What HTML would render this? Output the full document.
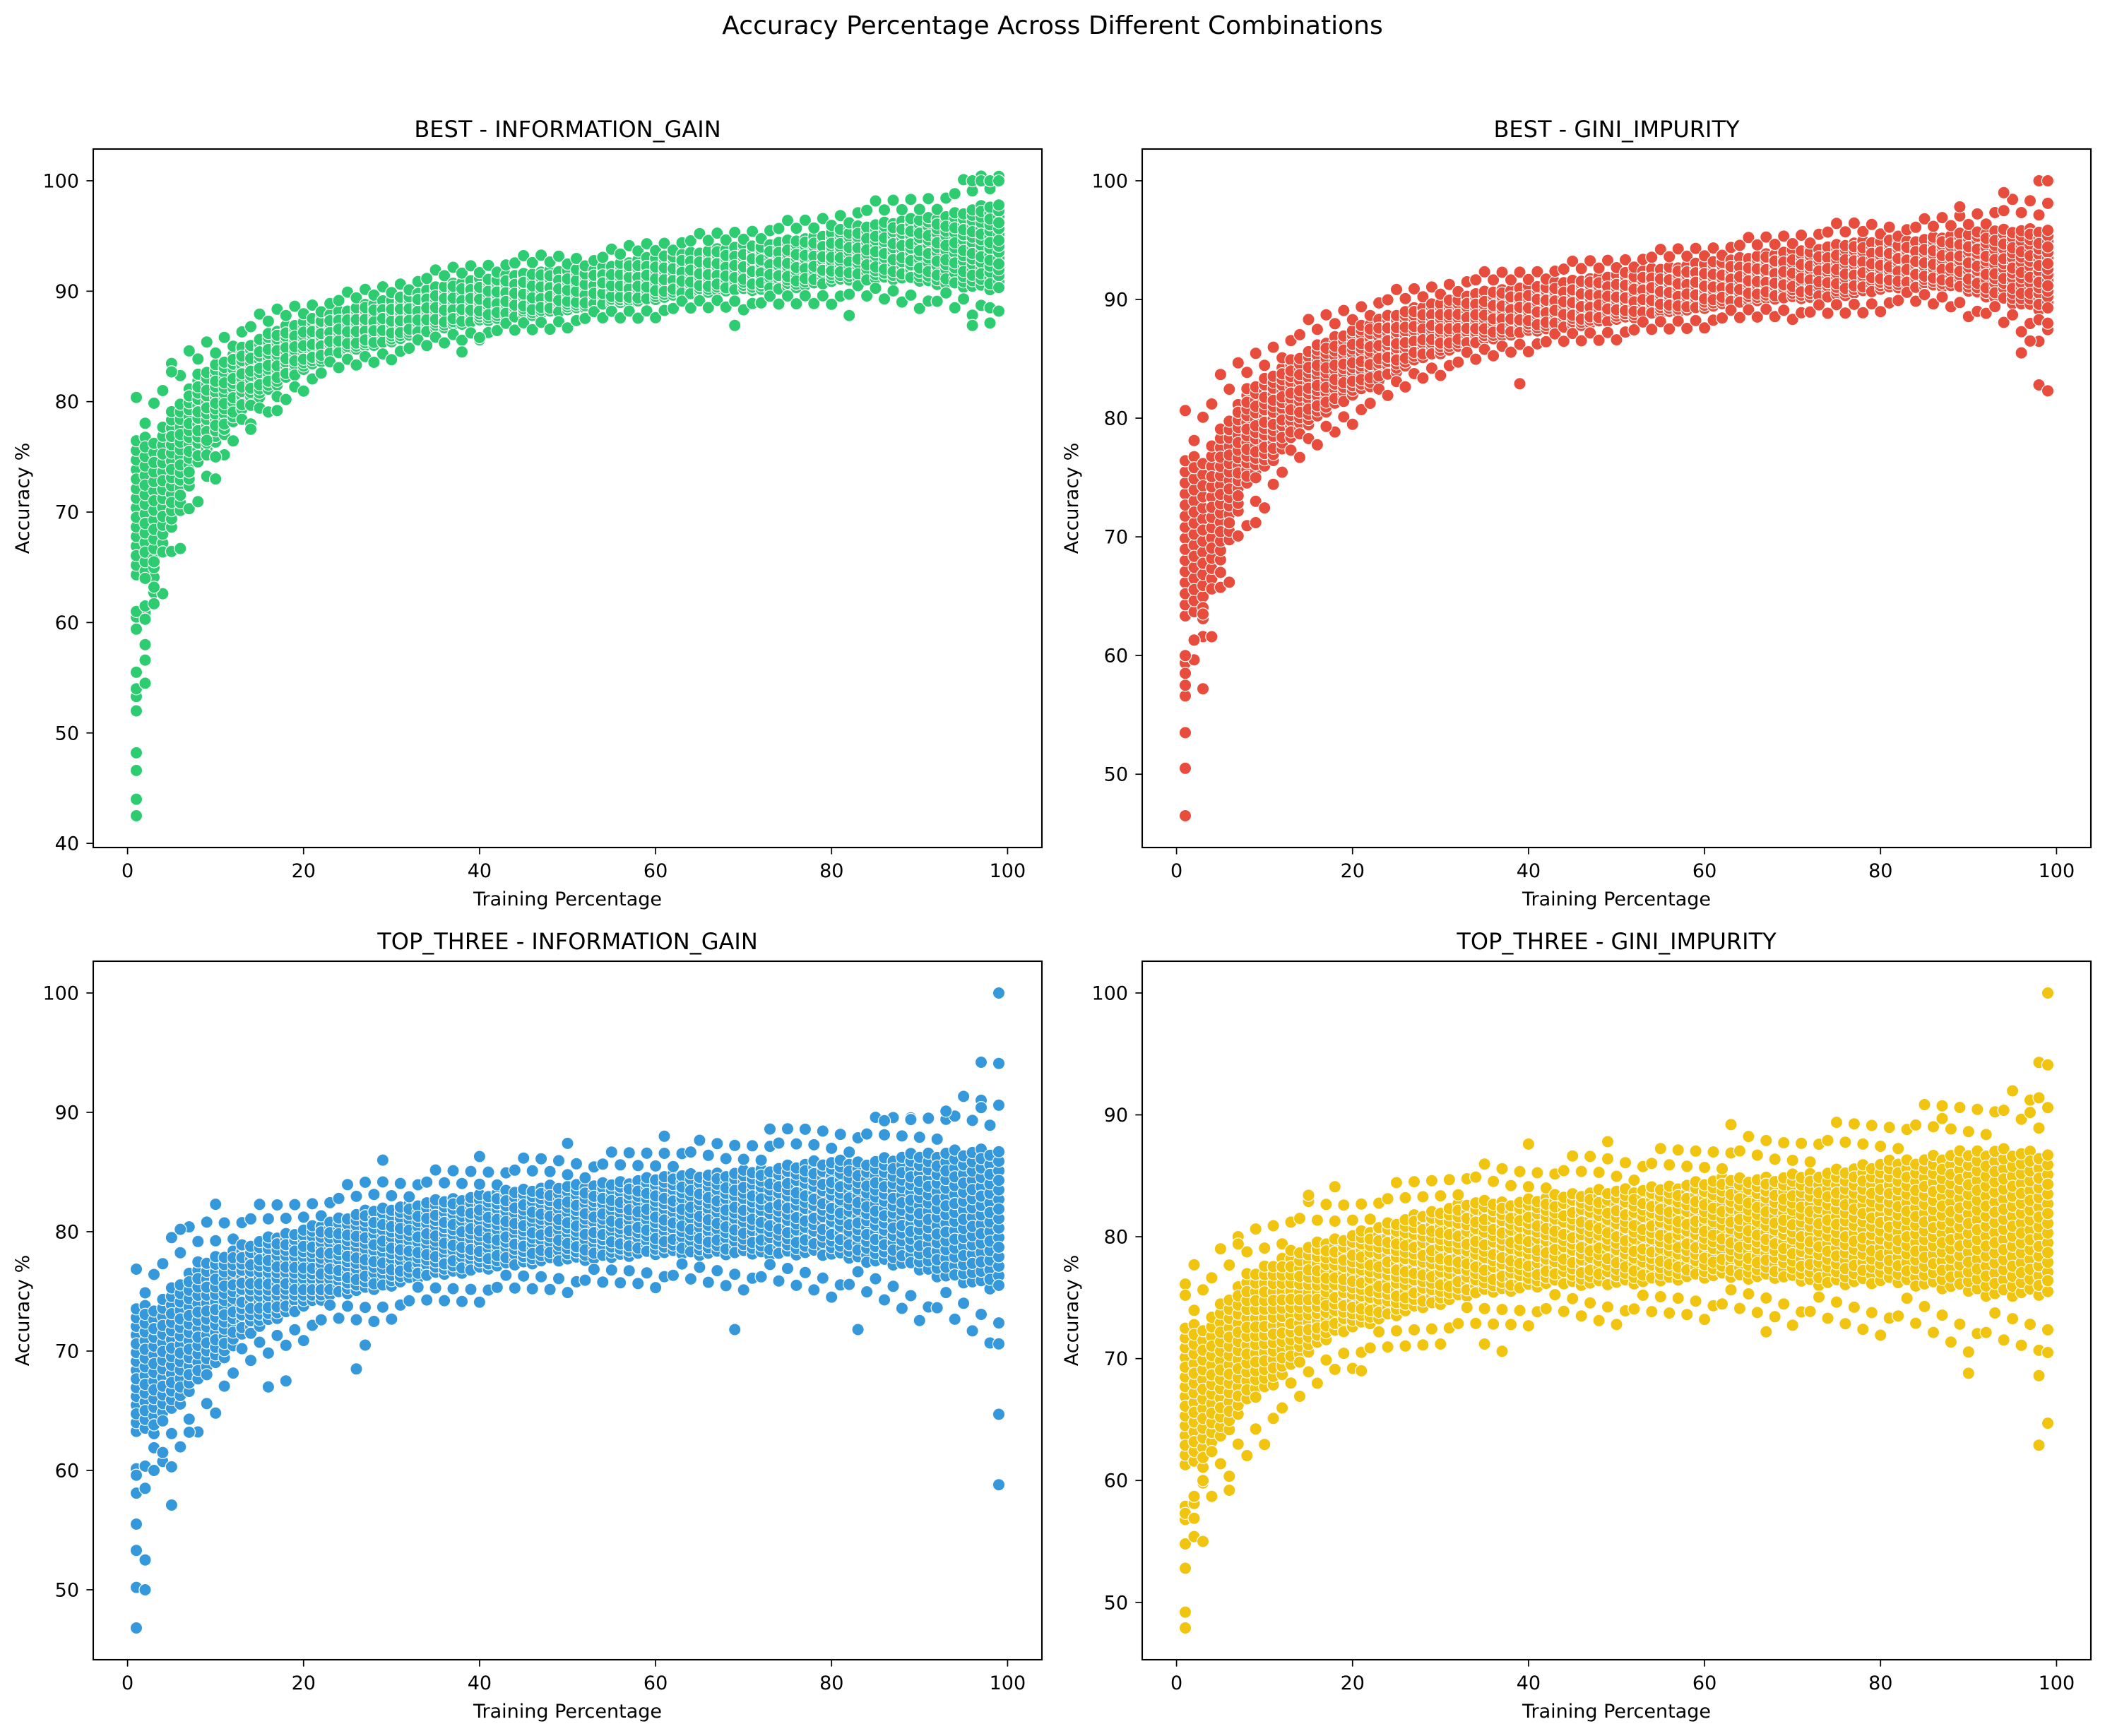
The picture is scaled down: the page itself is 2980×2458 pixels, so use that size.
<!DOCTYPE html>
<html><head><meta charset="utf-8"><style>
html,body{margin:0;padding:0;background:#fff;}
svg{display:block;font-family:"DejaVu Sans","Liberation Sans",sans-serif;}
</style></head><body>
<svg id="fig" width="2980" height="2458" viewBox="0 0 2980 2458" xmlns="http://www.w3.org/2000/svg">
<rect width="2980" height="2458" fill="#fff"/>
<text x="1490" y="48" font-size="36" text-anchor="middle" fill="#000">Accuracy Percentage Across Different Combinations</text>
</svg>
<script>
// band anchors at training % 3, 8, 13, ..., 98
const xTicks = [0,20,40,60,80,100];
const tlTitle = "BEST - INFORMATION_GAIN";
const tlLo = [64,74,79,82,84,85,86,87,87.5,88,88.5,89,89.5,90,90,90.5,91,91,90.5,90];
const tlHi = [77,82.5,85,87,88,89,90,91,91.5,92,92,93,93.5,94,94.5,95,96,96.5,97,98];
const tlOut = [[1,42.5],[1,44],[1,46.6],[1,48.2],[1,52],[1,53.3],[1,54],[1,55.5],[1,59.4],[1,60.5],[1,61],[2,54.5],[2,56.6],[2,58],[2,60.3],[2,61.5],[2,64],[3,61.7],[3,63.2],[3,65.5],[14,77.5],[17,79.2],[40,85.8],[38,84.5],[69,86.9],[82,87.8],[96,86.9],[98,88.5],[99,88.2],[96,100],[97,100],[98,100],[99,100],[5,82.7],[10,75],[9,76.5]];
const tlYTicks = [40,50,60,70,80,90,100];

const trTitle = "BEST - GINI_IMPURITY";
const trLo = [63,74,78,81,83,85,86,87,87.5,88,88.5,89,89.5,90,90,90.5,91,91,90,89];
const trHi = [77,82.5,85,87,88.5,89.5,90.5,91,91.5,92,92.5,93,93.5,94,94.5,95,95,95.5,96,96];
const trOut = [[1,46.5],[1,50.5],[1,53.5],[1,56.6],[1,57.5],[1,58.5],[1,60],[3,57.2],[3,63.5],[2,61.3],[9,71.2],[39,82.9],[17,79.3],[96,85.5],[97,86.5],[98,82.8],[99,82.3],[98,88.3],[99,88],[98,100],[99,100],[94,99],[89,97.8],[5,67]];
const trYTicks = [50,60,70,80,90,100];

const blTitle = "TOP_THREE - INFORMATION_GAIN";
const blLo = [63,67,71,73,74.5,75,76,76.5,77,77.5,77.5,78,78,78,78,78,77.5,77,76,75];
const blHi = [74,77.5,79,80,81,82,82.5,83,83.5,84,84,84.5,85,85,85.5,86,86,86.5,87,87];
const blOut = [[1,46.8],[1,50.2],[1,53.3],[1,55.5],[1,58.1],[1,59.6],[2,50],[2,52.5],[2,58.5],[3,60],[4,61.5],[5,57.1],[5,60.3],[7,63.2],[26,68.5],[27,70.5],[69,71.8],[83,71.8],[99,58.8],[99,64.7],[99,70.6],[99,100],[99,94.1],[97,94.2],[97,90.4],[93,90.1],[86,89.3],[89,89.4],[73,88.6],[50,87.4],[61,88],[16,67],[18,67.5],[29,86],[40,86.3],[6,80.2],[10,82.3]];
const blYTicks = [50,60,70,80,90,100];

const brTitle = "TOP_THREE - GINI_IMPURITY";
const brLo = [61,66,69,72,73,74,75,75.5,76,76,76,76.5,76.5,76.5,76,76,76,75.5,75,75];
const brHi = [73,77,79,80,81,82,83,83,83.5,84,84,84.5,85,85,85.5,86,86.5,87,87.5,87];
const brOut = [[1,47.9],[1,49.2],[1,52.8],[1,54.8],[1,56.8],[1,57.3],[2,55.4],[2,56.9],[2,58.7],[3,55],[3,60],[2,77.7],[1,75.2],[6,59.2],[7,79.4],[21,69],[35,71.2],[37,70.6],[67,72.2],[90,68.8],[98,62.9],[98,68.6],[99,64.7],[99,70.5],[99,76.4],[99,100],[98,94.3],[99,94.1],[98,91.4],[97,90.2],[63,89.2],[49,87.8],[40,87.6],[87,89.7],[15,83.4],[18,84.1]];
const brYTicks = [50,60,70,80,90,100];

const NS = "http://www.w3.org/2000/svg";
const svg = document.getElementById('fig');
function mk(tag, attrs, parent){
  const e = document.createElementNS(NS, tag);
  for (const k in attrs) e.setAttribute(k, attrs[k]);
  (parent||svg).appendChild(e);
  return e;
}
function bandAt(arr, x){
  const f = (x - 3) / 5;
  if (f <= 0) return arr[0];
  if (f >= arr.length - 1) return arr[arr.length - 1];
  const i = Math.floor(f), t = f - i;
  return arr[i] * (1 - t) + arr[i + 1] * t;
}

function panel(key, title, lo, hi, out, yTicks, color, L, T) {
  const W = 1343, H = 989;
  const xmin = -3.9, xmax = 103.9;
  let dmin = 100, dmax = 100;
  out.forEach(p => { dmin = Math.min(dmin, p[1]); dmax = Math.max(dmax, p[1]); });
  lo.forEach(v => dmin = Math.min(dmin, v));
  const pad = (dmax - dmin) * 0.05;
  const ymin = dmin - pad, ymax = dmax + pad;
  const sx = v => L + (v - xmin) / (xmax - xmin) * W;
  const sy = v => T + H - (v - ymin) / (ymax - ymin) * H;

  const g = mk('g', {});
  
  

  const pts = mk('g', {}, g);
  
  
  const N = 15;
  const fringe = [-0.32, -0.18, 1.16, 1.3];
  function dot(x, y){
    const c = mk('circle', {cx: sx(x).toFixed(1), cy: sy(y).toFixed(1), r: 8.6, fill: color, stroke: '#fff', 'stroke-width': 1.2}, pts);
    
    
  }
  for (let x = 1; x <= 99; x++) {
    const a = bandAt(lo, x), b = bandAt(hi, x);
    const shift = ((x * 0.37) % 1) / N;
    for (let k = 0; k < N; k++) {
      const off = (((k * 4 + x * 3) % N) / N) + shift;
      dot(x, a + (b - a) * Math.min(1, off));
    }
    fringe.forEach((fr, j) => {
      if ((x + j) % 2 === 0) {
        const jit = (((x * 7 + j * 3) % 5) - 2) * 0.04;
        dot(x, a + (b - a) * (fr + jit));
      }
    });
  }
  out.forEach(p => dot(p[0], p[1]));

  const frame = mk('rect', {x: L, y: T, width: W, height: H, fill: 'none', stroke: '#000', 'stroke-width': 2.1}, g);
  
  

  xTicks.forEach(v => {
    const x = sx(v);
    mk('line', {x1: x, x2: x, y1: T + H, y2: T + H + 9.6, stroke: '#000', 'stroke-width': 1.7}, g);
    const t = mk('text', {x: x, y: T + H + 42, 'font-size': 27, 'text-anchor': 'middle', fill: '#000'}, g);
    t.textContent = v;
    
    
  });
  yTicks.forEach(v => {
    const y = sy(v);
    mk('line', {x1: L - 9.6, x2: L, y1: y, y2: y, stroke: '#000', 'stroke-width': 1.7}, g);
    const t = mk('text', {x: L - 20, y: y + 9.5, 'font-size': 27, 'text-anchor': 'end', fill: '#000'}, g);
    t.textContent = v;
    
    
  });

  const xl = mk('text', {x: L + W / 2, y: T + H + 82, 'font-size': 27, 'text-anchor': 'middle', fill: '#000'}, g);
  xl.textContent = 'Training Percentage';
  
  

  const yl = mk('text', {x: 0, y: 0, 'font-size': 27, 'text-anchor': 'middle', fill: '#000', transform: 'translate(' + (L - 91) + ',' + (T + H / 2) + ') rotate(-90)'}, g);
  yl.textContent = 'Accuracy %';
  
  

  const tt = mk('text', {x: L + W / 2, y: T - 17, 'font-size': 32, 'text-anchor': 'middle', fill: '#000'}, g);
  tt.textContent = title;
  
  
}

panel('best-information-gain', tlTitle, tlLo, tlHi, tlOut, tlYTicks, '#2ecc71', 132, 211);
panel('best-gini-impurity', trTitle, trLo, trHi, trOut, trYTicks, '#e74c3c', 1617, 211);
panel('top-three-information-gain', blTitle, blLo, blHi, blOut, blYTicks, '#3498db', 132, 1361);
panel('top-three-gini-impurity', brTitle, brLo, brHi, brOut, brYTicks, '#f1c40f', 1617, 1361);
</script>
</body></html>
